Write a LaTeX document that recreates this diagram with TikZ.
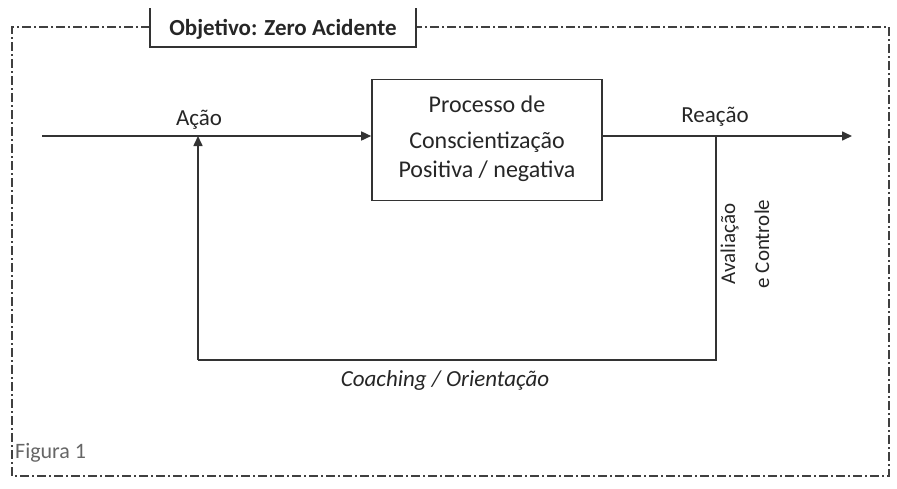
\documentclass[tikz,border=0pt]{standalone}
\usepackage{fontspec}
\setmainfont{Carlito}
\usetikzlibrary{arrows.meta}
\begin{document}
\begin{tikzpicture}[x=1pt,y=-1pt,
  frame/.style={line width=1.8pt,color=black!75,dash pattern=on 9pt off 3pt on 2pt off 3pt},
  solidline/.style={line width=1.6pt,color=black!80},
  arr/.style={solidline,-{Triangle[length=10pt,width=9pt]}},
  lbl/.style={font=\fontsize{23}{26}\selectfont,text=black!85,inner sep=0pt,anchor=base}]
\useasboundingbox (0,0) rectangle (897,488);
% frame
\coordinate (ftl) at (12,27);
\coordinate (ftr) at (889,27);
\coordinate (fbr) at (889,476);
\coordinate (fbl) at (12,476);
\draw[frame] (150,27) -- (ftl) -- (fbl) -- (fbr) -- (ftr) -- (416,27);
% title box (open at top)
\draw[solidline] (150,8) -- (150,47) -- (416,47) -- (416,8);
\node[lbl,font=\fontsize{23}{26}\selectfont\bfseries] (title) at (283,35) {Objetivo: Zero Acidente};
% process box
\node[draw,solidline,minimum width=230pt,minimum height=121pt,inner sep=0pt] (proc) at (487,140) {};
\node[lbl,font=\fontsize{24}{26}\selectfont] (p1) at (487,112) {Processo de};
\node[lbl,font=\fontsize{24}{26}\selectfont] (p2) at (487,148) {Conscientização};
\node[lbl,font=\fontsize{24}{26}\selectfont] (p3) at (487,177) {Positiva / negativa};
% main line
\coordinate (start) at (42,136);
\coordinate (endp) at (852,136);
\coordinate (fbA) at (198,136);
\coordinate (fbR) at (716,136);
\coordinate (fbR2) at (716,360);
\coordinate (fbA2) at (198,360);
\draw[arr] (start) -- (proc.west |- start);
\draw[arr] (proc.east |- endp) -- (endp);
\draw[solidline] (fbR) -- (fbR2) -- (fbA2);
\draw[arr] (fbA2) -- (fbA);
\node[lbl] (acao) at (199,125) {Ação};
\node[lbl] (reacao) at (715,122) {Reação};
\node[lbl,anchor=center,rotate=90,align=center,font=\fontsize{21}{34}\selectfont] (aval) at (745,244) {Avaliação\\e Controle};
\node[lbl,font=\fontsize{23}{26}\selectfont\itshape] (coach) at (445,386) {Coaching / Orientação};
\node[lbl,anchor=base west,text=black!60,font=\fontsize{22}{24}\selectfont] (fig) at (15,458) {Figura 1};
\end{tikzpicture}
\end{document}
